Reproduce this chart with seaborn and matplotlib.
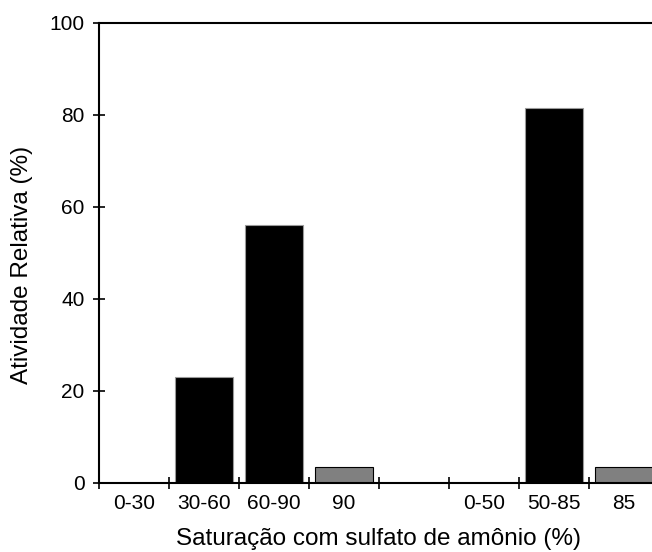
import numpy as np
import pandas as pd
import matplotlib
matplotlib.use('Agg')
import matplotlib.pyplot as plt
import seaborn as sns

# ─── Data ─────────────────────────────────────────────────────────────────────
categories = ['0-30', '30-60', '60-90', '90', ' ', '0-50', '50-85', '85']
activity   = [0.0, 23.0, 56.0, 3.5, 0.0, 0.0, 81.5, 3.5]
fractions  = ['ppt', 'ppt', 'ppt', 'sn', 'gap', 'ppt', 'ppt', 'sn']

df = pd.DataFrame({'cat': categories, 'act': activity, 'frac': fractions})

sns.set_style('ticks', {'text.color': 'black', 'axes.labelcolor': 'black',
                        'xtick.color': 'black', 'ytick.color': 'black',
                        'axes.edgecolor': 'black'})
plt.rcParams['font.family'] = ['Liberation Sans', 'DejaVu Sans']

fig = plt.figure(figsize=(6.52, 5.52), dpi=100)
ax  = fig.add_axes([99 / 652, 1 - 483 / 552, 560 / 652, 460 / 552])

fill = {'ppt': 'black', 'sn': '#808080', 'gap': 'white'}
sns.barplot(data=df, x='cat', y='act', hue='frac', palette=fill,
            order=categories, dodge=False, legend=False, width=0.82,
            saturation=1, ax=ax)

for p in ax.patches:
    fc = p.get_facecolor()
    p.set_linewidth(0.8)
    p.set_edgecolor('#9a9a9a' if fc[0] < 0.1 else 'black')

ax.set_xlim(-0.5, len(categories) - 0.5)
ax.set_ylim(0, 100)

# boundary ticks (unlabelled) and centred labels
ax.set_xticks(np.arange(-0.5, len(categories), 1.0))
ax.set_xticklabels([])
ax.set_xticks(np.arange(len(categories)), minor=True)
ax.set_xticklabels(categories, minor=True)
ax.tick_params(axis='x', which='major', direction='inout', length=9, width=1.2)
ax.tick_params(axis='x', which='minor', length=0, labelsize=15, pad=8)

ax.set_yticks([0, 20, 40, 60, 80, 100])
ax.tick_params(axis='y', which='major', direction='inout', length=9, width=1.2,
               labelsize=15, pad=6)

for side in ['left', 'bottom', 'top']:
    ax.spines[side].set_linewidth(1.5)
    ax.spines[side].set_visible(True)
ax.spines['right'].set_visible(False)

ax.set_xlabel('Saturação com sulfato de amônio (%)', fontsize=17.5, labelpad=11)
ax.set_ylabel('Atividade Relativa (%)', fontsize=17.5)
ax.yaxis.set_label_coords(-0.118, 0.474)

plt.savefig('out.png', dpi=100)
